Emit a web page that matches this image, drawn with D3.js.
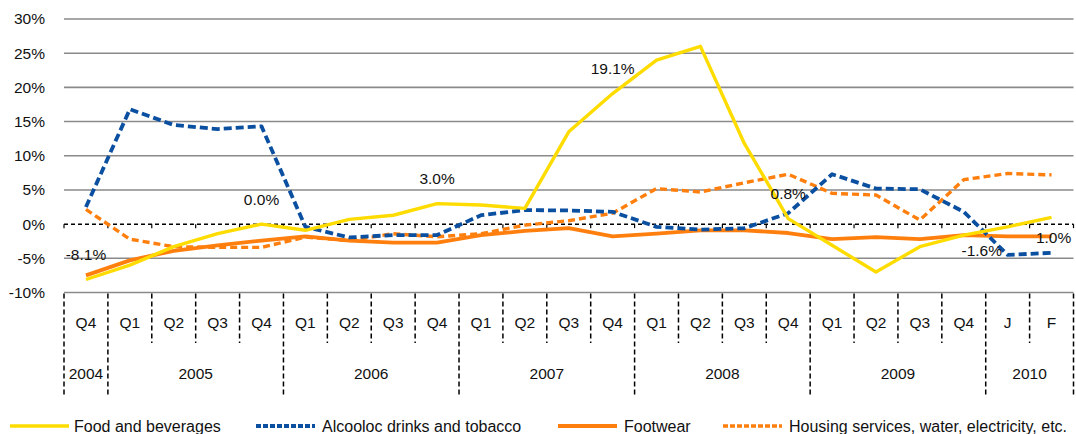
<!DOCTYPE html>
<html>
<head>
<meta charset="utf-8">
<script src="https://cdn.jsdelivr.net/npm/d3@7"></script>
<style>
  html, body { margin: 0; padding: 0; background: #fff; }
  svg { display: block; font-family: "Liberation Sans", Arial, Helvetica, sans-serif; }
</style>
</head>
<body>
<svg id="chart" width="1076" height="434"></svg>
<script>
// ---- data ----
const periods = ["Q4","Q1","Q2","Q3","Q4","Q1","Q2","Q3","Q4","Q1","Q2","Q3","Q4","Q1","Q2","Q3","Q4","Q1","Q2","Q3","Q4","J","F"];
const years = ["2004","2005","2006","2007","2008","2009","2010"];
const yearSpans = [1,4,4,4,4,4,2];
const yTicks = [-10,-5,0,5,10,15,20,25,30];

const foodBeverages = [-8.1,-6.0,-3.3,-1.4,0.0,-0.9,0.7,1.3,3.0,2.8,2.3,13.5,19.1,24.0,26.0,11.8,0.8,-3.1,-7.0,-3.3,-1.6,-0.4,1.0];
const alcoholTobacco = [2.5,16.8,14.5,13.9,14.3,-0.4,-1.95,-1.6,-1.6,1.3,2.05,2.0,1.8,-0.4,-0.8,-0.6,1.6,7.3,5.2,5.1,1.8,-4.5,-4.2];
const footwear = [-7.5,-5.3,-3.9,-3.1,-2.4,-1.8,-2.4,-2.7,-2.7,-1.6,-1.0,-0.6,-1.8,-1.4,-0.9,-0.9,-1.3,-2.2,-1.9,-2.2,-1.6,-1.8,-1.8];
const housing = [2.15,-2.2,-3.3,-3.4,-3.4,-1.9,-2.4,-1.4,-1.85,-1.4,-0.15,0.5,1.6,5.2,4.7,6.05,7.3,4.5,4.25,0.6,6.5,7.4,7.2];

const seriesNames = ["Food and beverages","Alcooloc drinks and tobacco","Footwear","Housing services, water, electricity, etc."];
const labelIndices = [0,4,8,12,16,20,22];   // labelled points of Food and beverages

// ---- layout / style ----
const svg = d3.select("#chart");
const plotLeft = 64, plotRight = 1073.5, plotTop = 19, plotBottom = 292.5;
const ids = periods.map((p,i) => i);
const x = d3.scaleBand().domain(ids).range([plotLeft, plotRight]).padding(0);
const y = d3.scaleLinear().domain([-10, 30]).range([plotBottom, plotTop]);
const cx = i => x(i) + x.bandwidth()/2;
const axisFont = 15.5, legendFont = 16;

const styles = [
  {color:"#FFDC00", width:3.4, dash:null},
  {color:"#0A4FA0", width:3.8, dash:"8,4"},
  {color:"#FF7F0E", width:3.8, dash:null},
  {color:"#FF7F0E", width:3.4, dash:"7,4"}
];
const allSeries = [foodBeverages, alcoholTobacco, footwear, housing];

// gridlines
svg.append("g").selectAll("line").data(yTicks.filter(t => t !== 0)).join("line")
  .attr("x1", plotLeft).attr("x2", plotRight)
  .attr("y1", d => y(d)).attr("y2", d => y(d))
  .attr("stroke", "#8a8a8a").attr("stroke-width", 1.6);

// y axis labels
const yAxis = d3.axisLeft(y).tickValues(yTicks).tickFormat(d => d + "%").tickSize(0).tickPadding(0);
const gy = svg.append("g").attr("transform", `translate(${plotLeft - 19},0)`).call(yAxis);
gy.select(".domain").remove();
gy.selectAll("text").attr("font-size", axisFont).attr("fill", "#111").attr("font-family", '"Liberation Sans", Arial, sans-serif');

// zero line (dashed) with tick marks
svg.append("line").attr("x1", plotLeft).attr("x2", plotRight).attr("y1", y(0)).attr("y2", y(0))
  .attr("stroke", "#000").attr("stroke-width", 1.5).attr("stroke-dasharray", "4,3");
svg.append("g").selectAll("line").data(d3.range(periods.length + 1)).join("line")
  .attr("x1", i => plotLeft + i * x.bandwidth()).attr("x2", i => plotLeft + i * x.bandwidth())
  .attr("y1", y(0)).attr("y2", y(0) + 4)
  .attr("stroke", "#000").attr("stroke-width", 1.2);

// category separators below the plot
const yearStarts = [0];
yearSpans.forEach((s, i) => yearStarts.push(yearStarts[i] + s));
const isYearBoundary = i => yearStarts.includes(i);
svg.append("g").selectAll("line").data(d3.range(periods.length + 1)).join("line")
  .attr("x1", i => plotLeft + i * x.bandwidth()).attr("x2", i => plotLeft + i * x.bandwidth())
  .attr("y1", plotBottom + 1).attr("y2", i => isYearBoundary(i) ? 395 : 343)
  .attr("stroke", "#000").attr("stroke-width", 1.5).attr("stroke-dasharray", "5,3");

// period labels
svg.append("g").selectAll("text").data(periods).join("text")
  .attr("x", (d,i) => cx(i)).attr("y", 322)
  .attr("text-anchor", "middle").attr("dominant-baseline", "central")
  .attr("font-size", axisFont).attr("fill", "#111").text(d => d);

// year labels
svg.append("g").selectAll("text").data(years).join("text")
  .attr("x", (d,i) => plotLeft + (yearStarts[i] + yearSpans[i]/2) * x.bandwidth())
  .attr("y", 373)
  .attr("text-anchor", "middle").attr("dominant-baseline", "central")
  .attr("font-size", axisFont).attr("fill", "#111").text(d => d);

// lines
const line = d3.line().x((d,i) => cx(i)).y(d => y(d));
const lineG = svg.append("g");
[2, 3, 1, 0].forEach(k => {
  lineG.append("path").datum(allSeries[k])
    .attr("d", line).attr("fill", "none")
    .attr("stroke", styles[k].color).attr("stroke-width", styles[k].width)
    .attr("stroke-dasharray", styles[k].dash)
    .attr("stroke-linejoin", "round");
});

// data labels
const labelOffsets = {20: [18, 15], 22: [2, 20]};
svg.append("g").selectAll("text").data(labelIndices).join("text")
  .attr("x", i => cx(i) + (labelOffsets[i] ? labelOffsets[i][0] : 0))
  .attr("y", i => y(foodBeverages[i]) + (labelOffsets[i] ? labelOffsets[i][1] : -25))
  .attr("text-anchor", "middle").attr("dominant-baseline", "central")
  .attr("font-size", axisFont).attr("fill", "#111")
  .text(i => foodBeverages[i].toFixed(1) + "%");

// legend
const legendX = [10, 256, 558, 723];
const lg = svg.append("g");
seriesNames.forEach((name, k) => {
  const g = lg.append("g").attr("transform", `translate(${legendX[k]},426)`);
  g.append("line").attr("x1", 0).attr("x2", 59).attr("y1", 0).attr("y2", 0)
    .attr("stroke", styles[k].color).attr("stroke-width", styles[k].width)
    .attr("stroke-dasharray", styles[k].dash ? "5,2" : null);
  g.append("text").attr("x", k === 0 ? 64 : 66).attr("y", 0).attr("dominant-baseline", "central")
    .attr("font-size", legendFont).attr("fill", "#111").text(name);
});
</script>
</body>
</html>
